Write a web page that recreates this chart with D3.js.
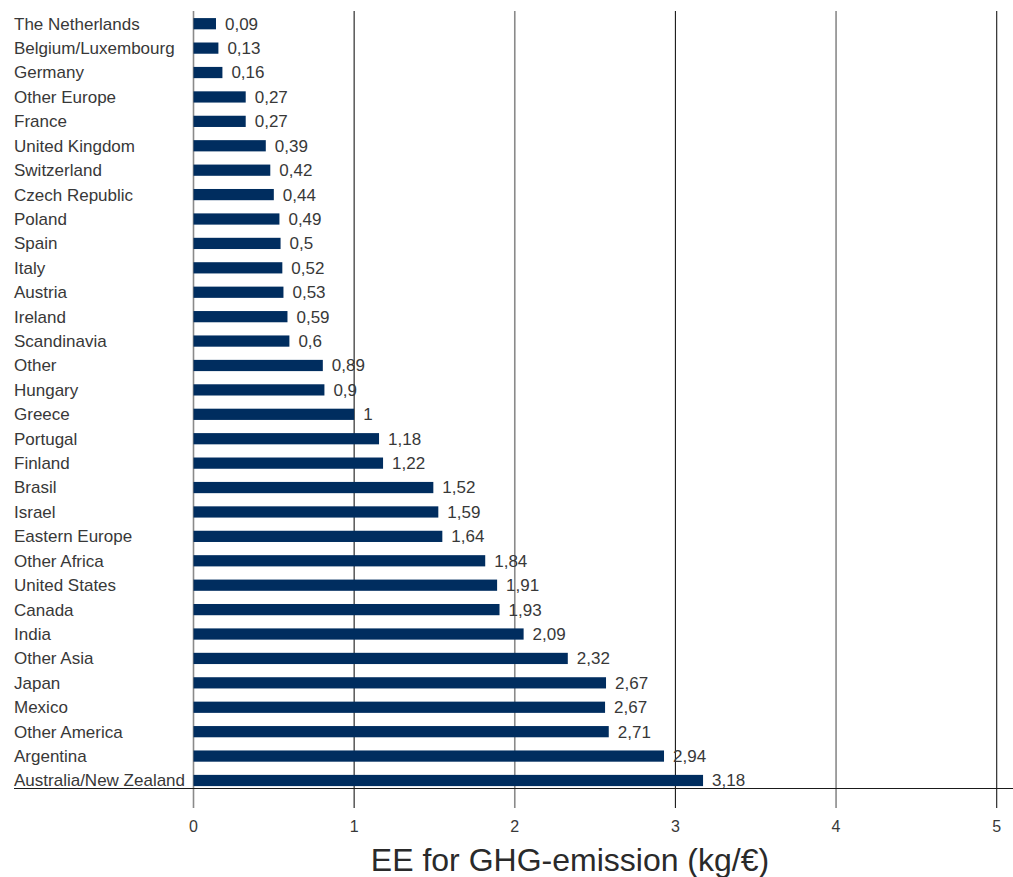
<!DOCTYPE html>
<html>
<head>
<meta charset="utf-8">
<script src="https://cdn.jsdelivr.net/npm/d3@7"></script>
<style>
  body { margin: 0; background: #fff; }
  text { font-family: "Liberation Sans", Arial, sans-serif; fill: #383838; }
</style>
</head>
<body>
<div id="chart"></div>
<script>
// categories, top to bottom
var countries = ["The Netherlands", "Belgium/Luxembourg", "Germany", "Other Europe", "France",
  "United Kingdom", "Switzerland", "Czech Republic", "Poland", "Spain", "Italy", "Austria",
  "Ireland", "Scandinavia", "Other", "Hungary", "Greece", "Portugal", "Finland", "Brasil",
  "Israel", "Eastern Europe", "Other Africa", "United States", "Canada", "India", "Other Asia",
  "Japan", "Mexico", "Other America", "Argentina", "Australia/New Zealand"];

// value labels as printed
var valueLabels = ["0,09", "0,13", "0,16", "0,27", "0,27", "0,39", "0,42", "0,44", "0,49", "0,5",
  "0,52", "0,53", "0,59", "0,6", "0,89", "0,9", "1", "1,18", "1,22", "1,52", "1,59", "1,64",
  "1,84", "1,91", "1,93", "2,09", "2,32", "2,67", "2,67", "2,71", "2,94", "3,18"];

// bar lengths as drawn in the picture (they don't always match the printed label)
var barValues = [0.14, 0.155, 0.18, 0.325, 0.325, 0.45, 0.478, 0.5, 0.535, 0.542, 0.553, 0.56,
  0.585, 0.597, 0.805, 0.815, 1.0, 1.155, 1.18, 1.493, 1.524, 1.549, 1.816, 1.89, 1.905,
  2.055, 2.33, 2.568, 2.562, 2.585, 2.929, 3.172];

var xTicks = [0, 1, 2, 3, 4, 5];

var width = 1013, height = 877;

var svg = d3.select("#chart").append("svg")
  .attr("width", width)
  .attr("height", height);

var x = d3.scaleLinear()
  .domain([0, 5])
  .range([193.5, 996.7]);

var y = d3.scaleBand()
  .domain(countries)
  .range([11.5, 792.7])
  .paddingInner(0.54)
  .paddingOuter(0.27);

var axisY = 788.5;

// gridlines (0,2,4 grey, 1,3,5 dark)
svg.append("g")
  .selectAll("line")
  .data(xTicks)
  .enter()
  .append("line")
    .attr("x1", function(d) { return x(d); })
    .attr("x2", function(d) { return x(d); })
    .attr("y1", 11)
    .attr("y2", 808)
    .attr("stroke", function(d) { return d % 2 === 0 ? "#8a8a8a" : "#1a1a1a"; })
    .attr("stroke-width", function(d) { return d % 2 === 0 ? 1.6 : 1.1; });

// bars
svg.append("g")
  .selectAll("rect")
  .data(countries)
  .enter()
  .append("rect")
    .attr("x", x(0))
    .attr("y", function(d) { return y(d); })
    .attr("width", function(d, i) { return x(barValues[i]) - x(0); })
    .attr("height", y.bandwidth())
    .attr("fill", "#002d5f");

// value labels
svg.append("g")
  .selectAll("text")
  .data(countries)
  .enter()
  .append("text")
    .attr("x", function(d, i) { return x(barValues[i]) + 9; })
    .attr("y", function(d) { return y(d) + y.bandwidth() / 2; })
    .attr("dy", "0.35em")
    .style("font-size", "17px")
    .text(function(d, i) { return valueLabels[i]; });

// category labels
svg.append("g")
  .selectAll("text")
  .data(countries)
  .enter()
  .append("text")
    .attr("x", 14)
    .attr("y", function(d) { return y(d) + y.bandwidth() / 2; })
    .attr("dy", "0.35em")
    .style("font-size", "17px")
    .text(function(d) { return d; });

// bottom axis line
svg.append("line")
  .attr("x1", 14)
  .attr("x2", width)
  .attr("y1", axisY)
  .attr("y2", axisY)
  .attr("stroke", "#1a1a1a")
  .attr("stroke-width", 1.1);

// tick labels
svg.append("g")
  .selectAll("text")
  .data(xTicks)
  .enter()
  .append("text")
    .attr("x", function(d) { return x(d); })
    .attr("y", 832)
    .attr("text-anchor", "middle")
    .style("font-size", "16px")
    .text(function(d) { return d; });

// axis title
svg.append("text")
  .attr("x", 570)
  .attr("y", 871)
  .attr("text-anchor", "middle")
  .style("font-size", "32px")
  .style("fill", "#2a2a2a")
  .text("EE for GHG-emission (kg/€)");
</script>
</body>
</html>
